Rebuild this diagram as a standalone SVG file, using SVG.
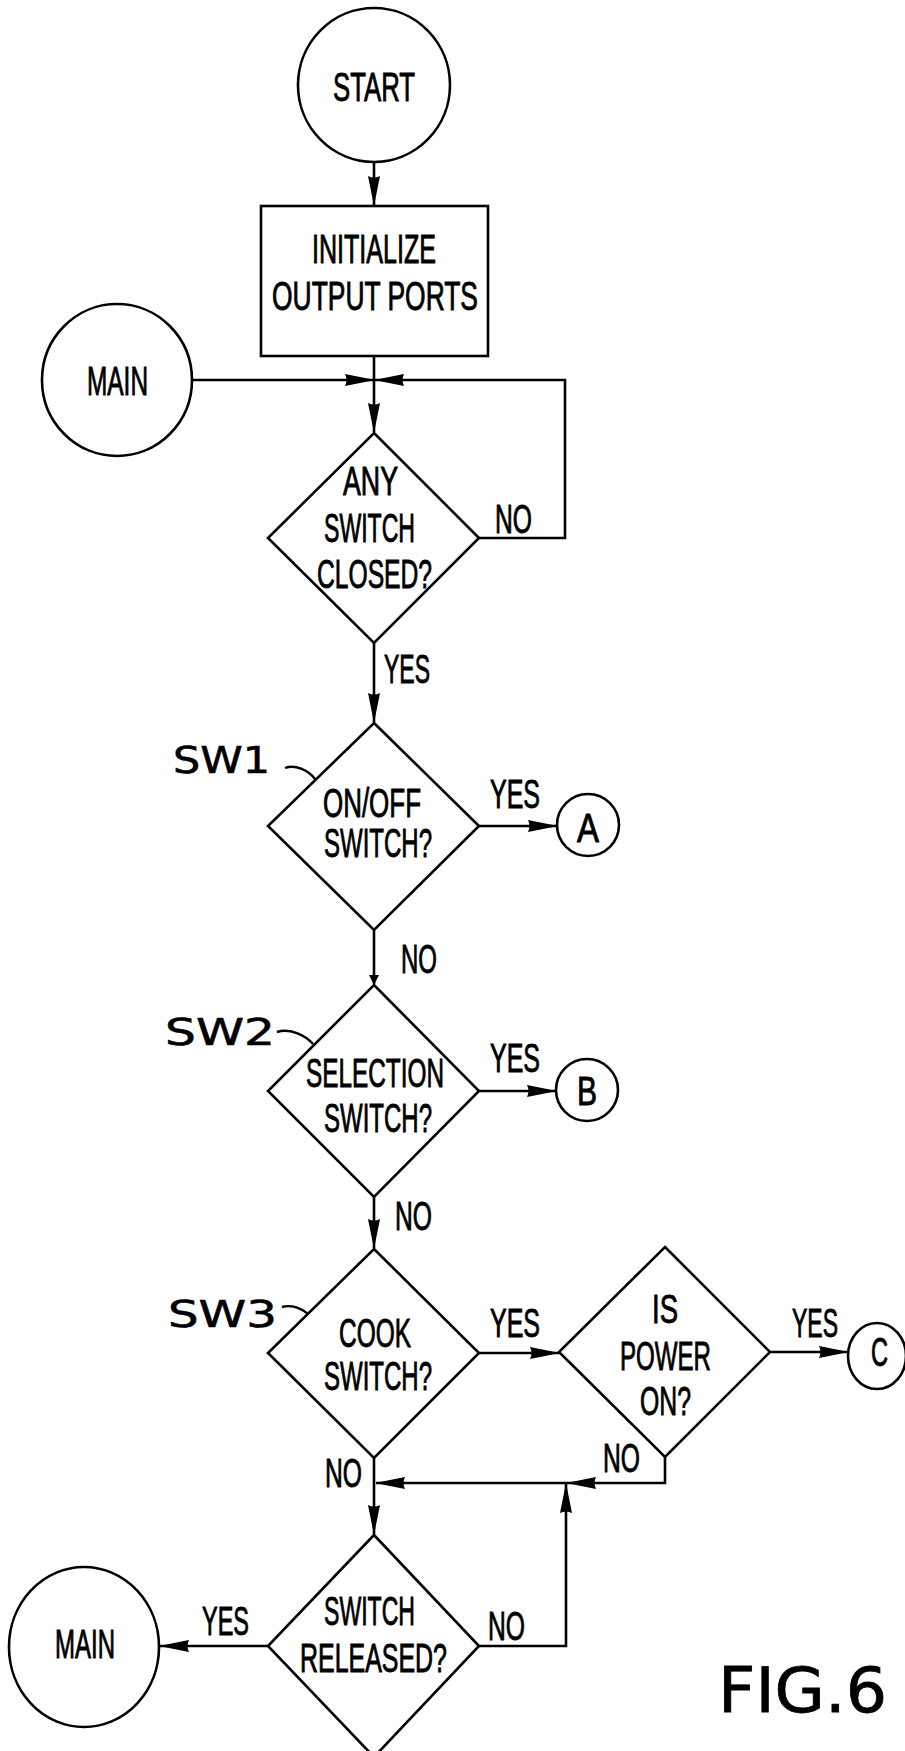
<svg xmlns="http://www.w3.org/2000/svg" width="905" height="1751" viewBox="0 0 905 1751">
<style>
.s{fill:none;stroke:#000;stroke-width:2.6;stroke-linejoin:miter}
.c{fill:none;stroke:#000;stroke-width:2.6}
.t{font-family:"Liberation Sans Narrow","Liberation Sans",sans-serif;font-size:40px;fill:#000;stroke:#000;stroke-width:0.9}
.h{font-family:"DejaVu Sans","Liberation Sans",sans-serif;font-size:38px;fill:#000;stroke:#000;stroke-width:0.6}
.f{font-family:"DejaVu Sans","Liberation Sans",sans-serif;font-size:63px;fill:#000;stroke:#000;stroke-width:0.8}
.l{fill:none;stroke:#000;stroke-width:2.4}
</style>
<defs>
<marker id="ah" markerUnits="userSpaceOnUse" markerWidth="30" markerHeight="14" viewBox="0 0 30 14" refX="29" refY="7" orient="auto">
<path d="M0,1 L30,7 L0,13 Q3,7 0,1 z" fill="#000"/>
</marker>
<marker id="as" markerUnits="userSpaceOnUse" markerWidth="10" markerHeight="10" viewBox="0 0 10 10" refX="9" refY="5" orient="auto">
<path d="M0,0 L10,5 L0,10 z" fill="#000"/>
</marker>
</defs>

<g id="connectors">
<path class="s" d="M374,162 V205" marker-end="url(#ah)"/>
<path class="s" d="M374,356 V432" marker-end="url(#ah)"/>
<path class="s" d="M193,380 H374" marker-end="url(#ah)"/>
<path class="s" d="M479,538 H565 V380 H375" marker-end="url(#ah)"/>
<path class="s" d="M374,643 V722" marker-end="url(#ah)"/>
<path class="s" d="M479,826 H557" marker-end="url(#ah)"/>
<path class="s" d="M374,930 V984" marker-end="url(#as)"/>
<path class="s" d="M479,1091 H556" marker-end="url(#ah)"/>
<path class="s" d="M374,1197 V1248" marker-end="url(#ah)"/>
<path class="s" d="M479,1353 H559" marker-end="url(#ah)"/>
<path class="s" d="M770,1352 H848" marker-end="url(#ah)"/>
<path class="s" d="M665,1457 V1483 H567" marker-end="url(#ah)"/>
<path class="s" d="M567,1483 H376" marker-end="url(#ah)"/>
<path class="s" d="M479,1646 H566 V1484" marker-end="url(#ah)"/>
<path class="s" d="M374,1458 V1534" marker-end="url(#ah)"/>
<path class="s" d="M268,1646 H160" marker-end="url(#ah)"/>
<text class="t" x="495" y="533" textLength="37" lengthAdjust="spacingAndGlyphs">NO</text>
<text class="t" x="384" y="683" textLength="46" lengthAdjust="spacingAndGlyphs">YES</text>
<text class="t" x="490" y="808" textLength="50" lengthAdjust="spacingAndGlyphs">YES</text>
<text class="t" x="401" y="973" textLength="36" lengthAdjust="spacingAndGlyphs">NO</text>
<text class="t" x="490" y="1072" textLength="50" lengthAdjust="spacingAndGlyphs">YES</text>
<text class="t" x="395" y="1230" textLength="37" lengthAdjust="spacingAndGlyphs">NO</text>
<text class="t" x="490" y="1337" textLength="50" lengthAdjust="spacingAndGlyphs">YES</text>
<text class="t" x="792" y="1337" textLength="46" lengthAdjust="spacingAndGlyphs">YES</text>
<text class="t" x="325" y="1487" textLength="37" lengthAdjust="spacingAndGlyphs">NO</text>
<text class="t" x="603" y="1472" textLength="37" lengthAdjust="spacingAndGlyphs">NO</text>
<text class="t" x="488" y="1640" textLength="37" lengthAdjust="spacingAndGlyphs">NO</text>
<text class="t" x="202" y="1635" textLength="47" lengthAdjust="spacingAndGlyphs">YES</text>
</g>

<g id="start">
<ellipse class="c" cx="374" cy="85" rx="76" ry="77"/>
<text class="t" x="333" y="101" textLength="82" lengthAdjust="spacingAndGlyphs">START</text>
</g>

<g id="init">
<rect class="c" x="261" y="206" width="227" height="150"/>
<text class="t" x="312" y="263" textLength="124" lengthAdjust="spacingAndGlyphs">INITIALIZE</text>
<text class="t" x="272" y="310" textLength="206" lengthAdjust="spacingAndGlyphs">OUTPUT PORTS</text>
</g>

<g id="main-top">
<ellipse class="c" cx="117" cy="380" rx="75" ry="76"/>
<text class="t" x="87" y="395" textLength="61" lengthAdjust="spacingAndGlyphs">MAIN</text>
</g>

<g id="any-switch">
<polygon class="c" points="374,433 479,538 374,643 268,538"/>
<text class="t" x="343" y="495" textLength="55" lengthAdjust="spacingAndGlyphs">ANY</text>
<text class="t" x="324" y="542" textLength="91" lengthAdjust="spacingAndGlyphs">SWITCH</text>
<text class="t" x="317" y="588" textLength="115" lengthAdjust="spacingAndGlyphs">CLOSED?</text>
</g>

<g id="onoff">
<polygon class="c" points="374,723 479,826 374,930 268,826"/>
<text class="t" x="323" y="817" textLength="98" lengthAdjust="spacingAndGlyphs">ON/OFF</text>
<text class="t" x="324" y="857" textLength="108" lengthAdjust="spacingAndGlyphs">SWITCH?</text>
<text class="h" x="173" y="773" textLength="97" lengthAdjust="spacingAndGlyphs">SW1</text>
<path class="l" d="M285,768 C295,764 308,770 315,779"/>
</g>

<g id="conn-a">
<circle class="c" cx="588" cy="825" r="31"/>
<text class="t" x="577" y="842" textLength="22" lengthAdjust="spacingAndGlyphs">A</text>
</g>

<g id="selection">
<polygon class="c" points="374,985 479,1091 374,1197 268,1091"/>
<text class="t" x="306" y="1087" textLength="138" lengthAdjust="spacingAndGlyphs">SELECTION</text>
<text class="t" x="324" y="1132" textLength="108" lengthAdjust="spacingAndGlyphs">SWITCH?</text>
<text class="h" x="165" y="1045" textLength="110" lengthAdjust="spacingAndGlyphs">SW2</text>
<path class="l" d="M277,1032 C290,1028 305,1035 313,1044"/>
</g>

<g id="conn-b">
<circle class="c" cx="587" cy="1090" r="31"/>
<text class="t" x="577" y="1105" textLength="20" lengthAdjust="spacingAndGlyphs">B</text>
</g>

<g id="cook">
<polygon class="c" points="374,1249 479,1353 374,1458 268,1353"/>
<text class="t" x="339" y="1347" textLength="72" lengthAdjust="spacingAndGlyphs">COOK</text>
<text class="t" x="324" y="1390" textLength="108" lengthAdjust="spacingAndGlyphs">SWITCH?</text>
<text class="h" x="168" y="1327" textLength="109" lengthAdjust="spacingAndGlyphs">SW3</text>
<path class="l" d="M282,1307 C292,1304 302,1309 308,1314"/>
</g>

<g id="power">
<polygon class="c" points="665,1247 770,1352 665,1457 559,1352"/>
<text class="t" x="652" y="1323" textLength="26" lengthAdjust="spacingAndGlyphs">IS</text>
<text class="t" x="620" y="1370" textLength="91" lengthAdjust="spacingAndGlyphs">POWER</text>
<text class="t" x="640" y="1415" textLength="51" lengthAdjust="spacingAndGlyphs">ON?</text>
</g>

<g id="conn-c">
<ellipse class="c" cx="877" cy="1356" rx="29" ry="33"/>
<text class="t" x="871" y="1366" textLength="17" lengthAdjust="spacingAndGlyphs">C</text>
</g>

<g id="released">
<polygon class="c" points="374,1535 479,1646 374,1757 268,1646"/>
<text class="t" x="324" y="1625" textLength="91" lengthAdjust="spacingAndGlyphs">SWITCH</text>
<text class="t" x="300" y="1672" textLength="147" lengthAdjust="spacingAndGlyphs">RELEASED?</text>
</g>

<g id="main-bottom">
<ellipse class="c" cx="84" cy="1647" rx="75" ry="80"/>
<text class="t" x="55" y="1658" textLength="60" lengthAdjust="spacingAndGlyphs">MAIN</text>
</g>

<g id="caption">
<text class="f" x="718" y="1712" textLength="169" lengthAdjust="spacingAndGlyphs">FIG.6</text>
</g>
</svg>
